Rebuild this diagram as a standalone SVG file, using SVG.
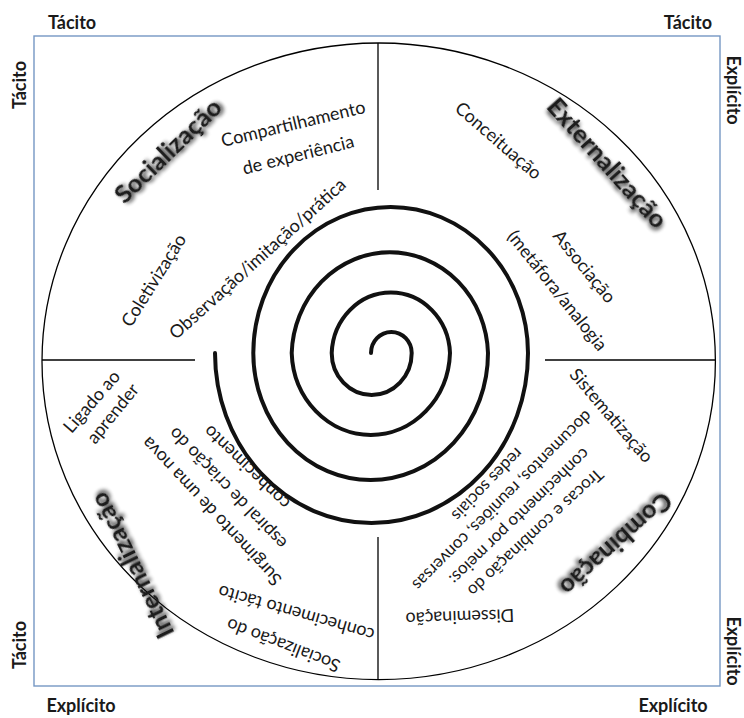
<svg xmlns="http://www.w3.org/2000/svg" width="744" height="718" viewBox="0 0 744 718">
  <defs>
    <filter id="soft" x="-20%" y="-40%" width="140%" height="180%">
      <feGaussianBlur in="SourceAlpha" stdDeviation="2"/>
      <feOffset dx="2" dy="2" result="b"/>
      <feComponentTransfer><feFuncA type="linear" slope="0.9"/></feComponentTransfer>
      <feMerge><feMergeNode/><feMergeNode in="SourceGraphic"/></feMerge>
    </filter>
    <style>
      text { font-family: Lato, "Liberation Sans", sans-serif; fill: #1a1a1a; }
      .t { font-size: 18px; text-anchor: middle; dominant-baseline: central; }
      .s { font-size: 17px; }
      .h { font-size: 25.5px; font-weight: bold; text-anchor: middle; dominant-baseline: central; filter: url(#soft); }
      .ax { font-size: 18px; font-weight: bold; }
      .line { stroke: #000; stroke-width: 1.3; fill: none; }
    </style>
  </defs>
  <rect width="744" height="718" fill="#fff"/>

  <!-- outer frame, circle and quadrant dividers -->
  <g id="frame">
    <rect x="34" y="36" width="686" height="650" fill="none" stroke="#7597c4" stroke-width="1.4"/>
    <ellipse cx="378.7" cy="361.3" rx="336.7" ry="318.3" class="line"/>
  </g>
  <g id="connectors" class="line">
    <line x1="378" y1="43" x2="378" y2="190"/>
    <line x1="378" y1="537" x2="378" y2="680"/>
    <line x1="42" y1="360" x2="195" y2="360"/>
    <line x1="545" y1="360" x2="715" y2="360"/>
  </g>

  <!-- knowledge spiral -->
  <g id="spiral">
    <path fill="none" stroke="#111" stroke-width="4" stroke-linecap="round"
      d="M 371 353 A 20.3 21 0 0 1 411.7 353 A 40 42 0 0 1 331.7 353 A 59.2 63 0 0 1 450 353 A 79.2 85 0 0 1 291.7 353 A 98.2 104 0 0 1 488 353 A 117.3 127 0 0 1 253.3 353 A 137.3 146 0 0 1 528 353 A 156.5 170 0 0 1 215 353"/>
  </g>

  <!-- axis labels -->
  <g id="axes" class="ax">
    <text x="48" y="29">Tácito</text>
    <text x="712" y="29" text-anchor="end">Tácito</text>
    <text transform="translate(26 85) rotate(-90)" text-anchor="middle">Tácito</text>
    <text transform="translate(26 645) rotate(-90)" text-anchor="middle">Tácito</text>
    <text transform="translate(727 90) rotate(90)" text-anchor="middle">Explícito</text>
    <text transform="translate(727 651) rotate(90)" text-anchor="middle">Explícito</text>
    <text x="81" y="712" text-anchor="middle">Explícito</text>
    <text x="673" y="712" text-anchor="middle">Explícito</text>
  </g>

  <!-- Socialização quadrant -->
  <g id="socializacao">
    <text class="h" transform="translate(167 150) rotate(-44)">Socialização</text>
    <text class="t" transform="translate(293 123) rotate(-13.5)">Compartilhamento</text>
    <text class="t" transform="translate(298 154) rotate(-14)">de experiência</text>
    <text class="t" transform="translate(153 280) rotate(-58)">Coletivização</text>
    <text class="t" transform="translate(257 258) rotate(-42)">Observação/imitação/prática</text>
  </g>

  <!-- Externalização quadrant -->
  <g id="externalizacao">
    <text class="h" transform="translate(608 162) rotate(48)">Externalização</text>
    <text class="t" transform="translate(499 140) rotate(41)">Conceituação</text>
    <text class="t" transform="translate(585 266) rotate(51)">Associação</text>
    <text class="t" transform="translate(558 290) rotate(51.5)">(metáfora/analogia</text>
  </g>

  <!-- Combinação quadrant -->
  <g id="combinacao">
    <text class="h" transform="translate(617 545) rotate(138)">Combinação</text>
    <text class="t" transform="translate(612 415) rotate(49.5)">Sistematização</text>
    <text class="t s" transform="translate(536 533) rotate(137)">Trocas e combinação do</text>
    <text class="t s" transform="translate(520 517) rotate(136)">conhecimento por meios:</text>
    <text class="t s" transform="translate(503 501) rotate(135)">documentos, reuniões, conversas</text>
    <text class="t s" transform="translate(488 485) rotate(134)">redes sociais</text>
    <text class="t" transform="translate(460 618) rotate(178)">Disseminação</text>
  </g>

  <!-- Internalização quadrant -->
  <g id="internalizacao">
    <text class="h" transform="translate(131 566) rotate(244)">Internalização</text>
    <text class="t" transform="translate(91 401) rotate(-49)">Ligado ao</text>
    <text class="t" transform="translate(112 413) rotate(-51)">aprender</text>
    <text class="t" transform="translate(211 512) rotate(227)">Surgimento de uma nova</text>
    <text class="t" transform="translate(227 489) rotate(226)">espiral de criação do</text>
    <text class="t" transform="translate(246 468) rotate(224)">conhecimento</text>
    <text class="t" transform="translate(283 646) rotate(201)">Socialização do</text>
    <text class="t" transform="translate(296 614) rotate(196)">conhecimento tácito</text>
  </g>
</svg>
